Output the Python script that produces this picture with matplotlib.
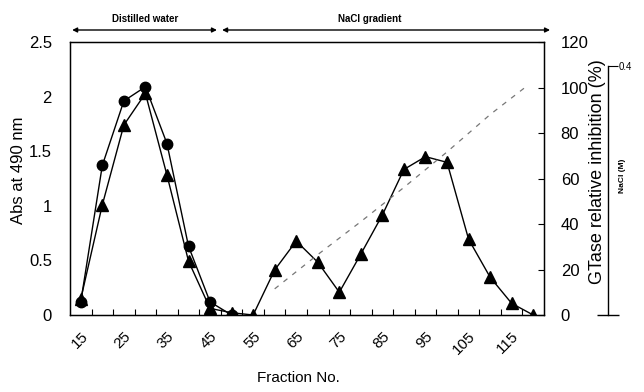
import matplotlib
matplotlib.use("Agg")
import matplotlib.pyplot as plt
import matplotlib.transforms as mtransforms
import numpy as np

plt.rcParams['font.family'] = ['Liberation Sans Narrow', 'Liberation Sans', 'DejaVu Sans']

# ---- data ----
frac_abs = [15, 20, 25, 30, 35, 40, 45, 50]
abs490 = [0.12, 1.37, 1.96, 2.09, 1.57, 0.63, 0.12, 0.0]

frac_inh = [15, 20, 25, 30, 35, 40, 45, 50, 55, 60, 65, 70, 75, 80, 85, 90, 95, 100, 105, 110, 115, 120]
inhibition = [7.0, 48.4, 83.5, 97.4, 61.5, 23.7, 2.9, 1.0, 0.0, 19.8, 32.5, 23.2, 10.0, 26.8,
              44.0, 64.0, 69.6, 67.1, 33.3, 16.6, 5.1, 0.0]

frac_nacl = [60, 70, 80, 90, 100, 110, 118]
nacl = [0.042, 0.097, 0.150, 0.205, 0.262, 0.322, 0.365]

xtick_vals = [15, 25, 35, 45, 55, 65, 75, 85, 95, 105, 115]
left_ticks = [0, 0.5, 1, 1.5, 2, 2.5]
left_labels = ['0', '0.5', '1', '1.5', '2', '2.5']
right_ticks = [0, 20, 40, 60, 80, 100, 120]

# ---- figure ----
W, H = 644, 392
fig = plt.figure(figsize=(W / 100, H / 100), dpi=100)
L, R, T, B = 70, 544, 42, 315
ax = fig.add_axes([L / W, 1 - B / H, (R - L) / W, (B - T) / H])

ax.plot(frac_abs, abs490, color='black', lw=1.0, marker='o', ms=7.5, zorder=3)
ax.set_xlim(12.5, 122.5)
ax.set_ylim(0, 2.5)
ax.set_yticks(left_ticks)
ax.set_yticklabels(left_labels)
ax.tick_params(axis='y', length=0, pad=13, labelsize=12)
ax.set_xticks(xtick_vals)
ax.set_xticklabels([str(v) for v in xtick_vals], rotation=45, ha='right',
                   rotation_mode='anchor')
ax.tick_params(axis='x', which='major', length=0, pad=10, labelsize=11)
ax.set_xticks(np.arange(17.5, 122.5, 5), minor=True)
ax.tick_params(axis='x', which='minor', direction='in', length=4, width=0.8)
for s in ax.spines.values():
    s.set_linewidth(1.0)
    s.set_color('black')

ax2 = ax.twinx()
ax2.plot(frac_inh, inhibition, color='black', lw=1.0, marker='^', ms=8.5, zorder=3)
ax2.set_ylim(0, 120)
ax2.set_yticks(right_ticks)
ax2.tick_params(axis='y', direction='in', length=4, width=0.8, pad=12, labelsize=12)

# NaCl axis
ax3 = ax.twinx()
ax3.plot(frac_nacl, nacl, color='#777777', lw=0.9, linestyle=(0, (4, 5)))
ax3.set_ylim(0, 0.4 / ((B - 66) / (B - T)))
for k in ['top', 'bottom', 'left']:
    ax3.spines[k].set_visible(False)
ax3.spines['right'].set_position(('axes', (608 - L) / (R - L)))
ax3.spines['right'].set_bounds(0, 0.4)
ax3.spines['right'].set_linewidth(1.0)
ax3.set_yticks([0.4])
ax3.set_yticklabels(['0.4'])
ax3.tick_params(axis='y', which='major', direction='out', length=7, width=0.8, pad=1, labelsize=7)
ax3.set_yticks([0], minor=True)
ax3.tick_params(axis='y', which='minor', direction='inout', length=16, width=1.0)

# axis labels
fig.text(19 / W, 1 - 170 / H, 'Abs at 490 nm', rotation=90, ha='center', va='center', fontsize=12)
fig.text(598 / W, 1 - 172 / H, 'GTase relative inhibition (%)', rotation=90, ha='center', va='center', fontsize=13)
fig.text(623 / W, 1 - 176 / H, 'NaCl (M)', rotation=90, ha='center', va='center', fontsize=6, fontweight='bold')
fig.text(298 / W, 1 - 378 / H, 'Fraction No.', ha='center', va='center', fontsize=11)

# top arrows
trans = mtransforms.blended_transform_factory(ax.transData, ax.transAxes)
ya = (B - 30) / (B - T)
yt = (B - 19) / (B - T)
arrow_kw = dict(arrowstyle='<|-|>', color='black', lw=1.0, mutation_scale=7,
                shrinkA=0, shrinkB=0)
ax.annotate('', xy=(13.0, ya), xytext=(46.6, ya), xycoords=trans, textcoords=trans,
            arrowprops=arrow_kw, annotation_clip=False)
ax.annotate('', xy=(47.8, ya), xytext=(123.9, ya), xycoords=trans, textcoords=trans,
            arrowprops=arrow_kw, annotation_clip=False)
ax.text(30.0, yt, 'Distilled water', transform=trans, ha='center', va='center', fontsize=7, fontweight='bold')
ax.text(82.0, yt, 'NaCl gradient', transform=trans, ha='center', va='center', fontsize=7, fontweight='bold')

fig.savefig('out.png', dpi=100)
